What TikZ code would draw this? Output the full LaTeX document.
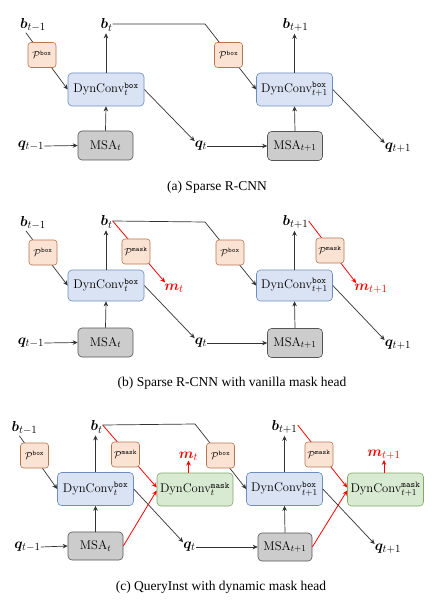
\documentclass[tikz,border=0pt]{standalone}
\usepackage{amsmath,bm}
\usepackage{fontspec}
\newfontfamily\capfont{Liberation Serif}
\usetikzlibrary{arrows.meta,calc}
\definecolor{pfill}{HTML}{FBE3D3}
\definecolor{pdraw}{HTML}{B87650}
\definecolor{bfill}{HTML}{DAE3F3}
\definecolor{bdraw}{HTML}{6C8EBF}
\definecolor{gfill}{HTML}{D9EAD3}
\definecolor{gdraw}{HTML}{82A866}
\definecolor{mfill}{HTML}{CCCCCC}
\definecolor{mdraw}{HTML}{555555}
\definecolor{lcol}{HTML}{333333}
\newcommand\Pbox{$\mathcal{P}^{\mathtt{box}}$}
\newcommand\Pmask{$\mathcal{P}^{\mathtt{mask}}$}
\begin{document}
\begin{tikzpicture}[x=1pt,y=-1pt,
  font=\fontsize{12.6}{15}\selectfont,
  lab/.style={inner sep=0pt,font=\fontsize{15}{18}\selectfont},
  pnode/.style={draw=pdraw,fill=pfill,rounded corners=3pt,minimum width=28pt,minimum height=25pt,inner sep=0pt,line width=0.6pt,font=\fontsize{10}{12}\selectfont},
  dynbox/.style={draw=bdraw,fill=bfill,rounded corners=4pt,minimum width=76pt,minimum height=33pt,inner sep=0pt,line width=0.6pt},
  mskbox/.style={dynbox,draw=gdraw,fill=gfill},
  msabox/.style={draw=mdraw,fill=mfill,rounded corners=4pt,minimum width=55pt,minimum height=29pt,inner sep=0pt,line width=0.6pt},
  ln/.style={draw=lcol,line width=0.7pt},
  arr/.style={ln,-{Stealth[length=5pt,width=4.5pt]}},
  rln/.style={draw=red,line width=0.8pt},
  rarr/.style={rln,-{Stealth[length=5pt,width=4.5pt]}},
  captext/.style={font=\capfont\fontsize{13.5}{16}\selectfont}
]
\fill[white] (0,0) rectangle (437,609);
\useasboundingbox (0,0) rectangle (437,609);

% ================= (a) =================
\node[lab] (a-bm) at (33,25) {$\bm{b}_{t-1}$};
\node[lab] (a-bt) at (106.5,25) {$\bm{b}_{t}$};
\node[lab] (a-bp) at (295.5,25) {$\bm{b}_{t+1}$};
\node[dynbox] (a-d1) at (106,89.5) {DynConv$^{\mathtt{box}}_{t}$};
\node[dynbox] (a-d2) at (294.5,89.5) {DynConv$^{\mathtt{box}}_{t+1}$};
\node[msabox] (a-m1) at (105.5,145.5) {MSA$_t$};
\node[msabox] (a-m2) at (295,146) {MSA$_{t+1}$};
\node[lab] (a-qm) at (31,146) {$\bm{q}_{t-1}$};
\node[lab] (a-qt) at (201,146) {$\bm{q}_{t}$};
\node[lab] (a-qp) at (398,148) {$\bm{q}_{t+1}$};
\coordinate (a-k) at (205,24);
\draw[arr] ($(a-bm.south west)+(6,1)$) -- (a-d1.west);
\draw[arr] (a-d1.north) -- ($(a-d1.north |- a-bt.south)+(0,2)$);
\draw[arr] (a-m1.north) -- (a-d1.south);
\draw[arr] (a-qm.east) -- (a-m1.west);
\draw[arr] (a-d1.east) -- (a-qt.north west);
\draw[arr] ($(a-bt.east)+(0,-1)$) -- (a-k) -- (a-d2.west);
\draw[arr] (a-d2.north) -- ($(a-d2.north |- a-bp.south)+(0,2)$);
\draw[arr] (a-m2.north) -- (a-d2.south);
\draw[arr] (a-qt.east) -- (a-m2.west);
\draw[arr] (a-d2.east) -- (a-qp.north west);
\node[pnode] (a-p1) at (42,55) {\Pbox};
\node[pnode] (a-p2) at (228.5,55) {\Pbox};
\node[captext] (a-cap) at (217,187) {(a) Sparse R-CNN};

% ================= (b) =================
\node[lab] (b-bm) at (33,223) {$\bm{b}_{t-1}$};
\node[lab] (b-bt) at (106.5,222) {$\bm{b}_{t}$};
\node[lab] (b-bp) at (295.5,222) {$\bm{b}_{t+1}$};
\node[dynbox,minimum height=31pt] (b-d1) at (106,285.5) {DynConv$^{\mathtt{box}}_{t}$};
\node[dynbox,minimum height=31pt] (b-d2) at (294.5,285.5) {DynConv$^{\mathtt{box}}_{t+1}$};
\node[msabox] (b-m1) at (105.5,342.5) {MSA$_t$};
\node[msabox] (b-m2) at (295,343) {MSA$_{t+1}$};
\node[lab] (b-qm) at (31,343) {$\bm{q}_{t-1}$};
\node[lab] (b-qt) at (201,343) {$\bm{q}_{t}$};
\node[lab] (b-qp) at (398,345) {$\bm{q}_{t+1}$};
\node[lab,text=red] (b-mt) at (174,288) {$\bm{m}_{t}$};
\node[lab,text=red] (b-mp) at (371,289) {$\bm{m}_{t+1}$};
\coordinate (b-k) at (205,222);
\draw[arr] ($(b-bm.south west)+(6,1)$) -- (b-d1.west);
\draw[arr] (b-d1.north) -- ($(b-d1.north |- b-bt.south)+(0,2)$);
\draw[arr] (b-m1.north) -- (b-d1.south);
\draw[arr] (b-qm.east) -- (b-m1.west);
\draw[arr] (b-d1.east) -- (b-qt.north west);
\draw[arr] ($(b-bt.east)+(0,-1)$) -- (b-k) -- (b-d2.west);
\draw[rarr] ($(b-bt.east)+(0,-1)$) -- ($(b-mt.north west)+(1,-1)$);
\draw[arr] (b-d2.north) -- ($(b-d2.north |- b-bp.south)+(0,2)$);
\draw[arr] (b-m2.north) -- (b-d2.south);
\draw[arr] (b-qt.east) -- (b-m2.west);
\draw[arr] (b-d2.east) -- (b-qp.north west);
\draw[rarr] ($(b-bp.east)+(0,-1)$) -- ($(b-mp.north west)+(2,-1)$);
\node[pnode] (b-p1) at (43,252.5) {\Pbox};
\node[pnode] (b-p2) at (230,252.5) {\Pbox};
\node[pnode] (b-pm1) at (136,251.5) {\Pmask};
\node[pnode] (b-pm2) at (330,250.5) {\Pmask};
\node[captext] (b-cap) at (232,383) {(b) Sparse R-CNN with vanilla mask head};

% ================= (c) =================
\node[lab] (c-bm) at (24.5,428) {$\bm{b}_{t-1}$};
\node[lab] (c-bt) at (96.5,427) {$\bm{b}_{t}$};
\node[lab] (c-bp) at (284.5,427) {$\bm{b}_{t+1}$};
\node[dynbox] (c-d1) at (95.5,489) {DynConv$^{\mathtt{box}}_{t}$};
\node[dynbox] (c-d2) at (284.5,489) {DynConv$^{\mathtt{box}}_{t+1}$};
\node[mskbox] (c-g1) at (195,489.5) {DynConv$^{\mathtt{mask}}_{t}$};
\node[mskbox] (c-g2) at (385.5,489.5) {DynConv$^{\mathtt{mask}}_{t+1}$};
\node[msabox,minimum height=28pt] (c-m1) at (95.5,546) {MSA$_t$};
\node[msabox,minimum height=28pt,minimum width=54pt] (c-m2) at (285,547) {MSA$_{t+1}$};
\node[lab] (c-qm) at (27.5,547) {$\bm{q}_{t-1}$};
\node[lab] (c-qt) at (189.5,547) {$\bm{q}_{t}$};
\node[lab] (c-qp) at (388,549) {$\bm{q}_{t+1}$};
\node[lab,text=red] (c-mt) at (188.5,456) {$\bm{m}_{t}$};
\node[lab,text=red] (c-mp) at (384,455) {$\bm{m}_{t+1}$};
\coordinate (c-k) at (195,424);
\draw[arr] ($(c-bm.south west)+(8,1)$) -- (c-d1.west);
\draw[arr] (c-d1.north) -- ($(c-d1.north |- c-bt.south)+(0,2)$);
\draw[arr] (c-m1.north) -- (c-d1.south);
\draw[arr] (c-qm.east) -- (c-m1.west);
\draw[arr] (c-d1.east) -- (c-qt.north west);
\draw[arr] ($(c-bt.east)+(0,-2)$) -- (c-k) -- (c-d2.west);
\draw[rarr] ($(c-bt.east)+(0,-2)$) -- ($(c-g1.west)+(0,-2)$);
\draw[rarr] (c-m1.east) -- ($(c-g1.west)+(0,1)$);
\draw[rarr] (c-g1.north -| c-mt.south) -- (c-mt.south);
\draw[arr] (c-d2.north) -- ($(c-d2.north |- c-bp.south)+(0,2)$);
\draw[arr] (c-m2.north) -- (c-d2.south);
\draw[arr] (c-qt.east) -- (c-m2.west);
\draw[arr] (c-d2.east) -- (c-qp.north west);
\draw[rarr] ($(c-bp.east)+(0,-2)$) -- ($(c-g2.west)+(0,-2)$);
\draw[rarr] (c-m2.east) -- ($(c-g2.west)+(0,1)$);
\draw[rarr] (c-g2.north -| c-mp.south) -- (c-mp.south);
\node[pnode] (c-p1) at (34.5,455.5) {\Pbox};
\node[pnode] (c-p2) at (220.5,455.5) {\Pbox};
\node[pnode] (c-pm1) at (125.5,454.5) {\Pmask};
\node[pnode] (c-pm2) at (319,454.5) {\Pmask};
\node[captext] (c-cap) at (221,587) {(c) QueryInst with dynamic mask head};
\end{tikzpicture}
\end{document}
